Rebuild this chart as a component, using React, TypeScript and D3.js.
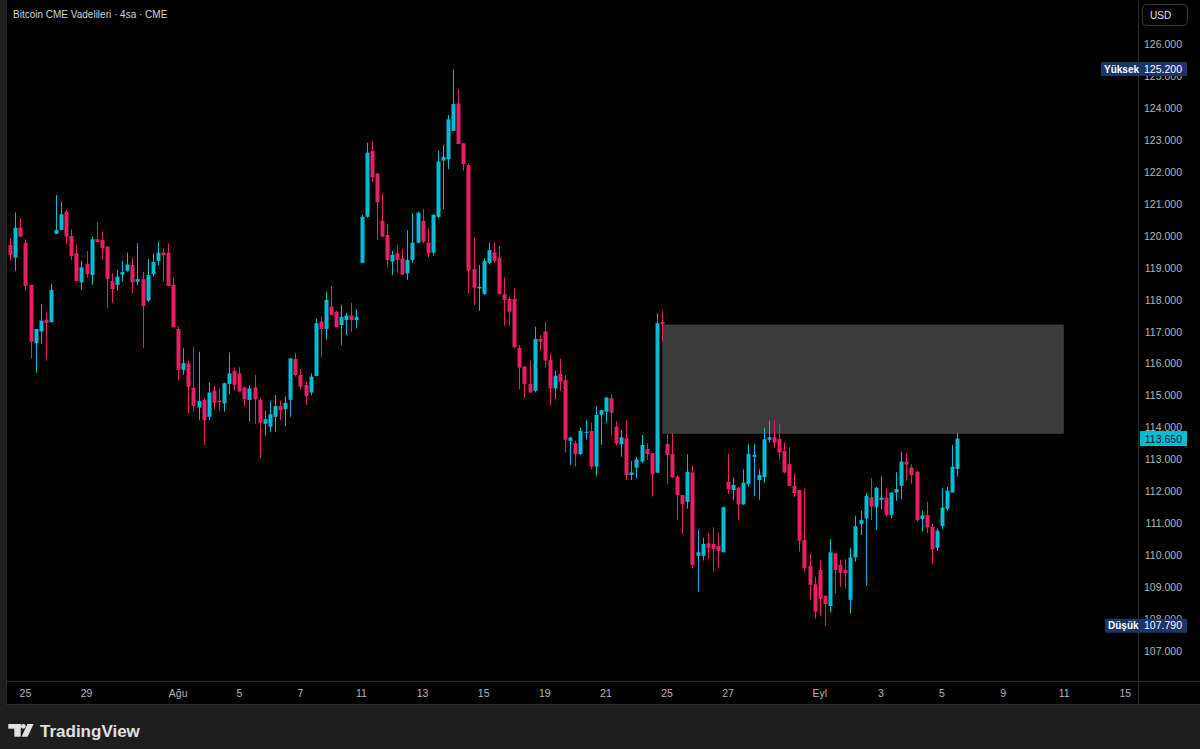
import React from "react";
import * as d3 from "d3";

// 4h candles, Bitcoin CME futures (late Jul -> early Sep)
const opens = [
  119.71, 119.31, 120.26, 119.78, 118.46, 116.63, 117.0, 117.37, 117.29, 120.06,
  120.18, 120.75, 119.99, 119.45, 118.54, 119.11, 118.77, 119.89, 119.87, 119.66,
  118.58, 118.46, 118.78, 118.9, 119.08, 118.56, 118.64, 117.97, 118.8, 119.21,
  119.47, 119.47, 118.46, 117.08, 115.8, 116.0, 115.24, 114.62, 114.86, 114.33,
  115.15, 114.84, 114.75, 115.36, 115.76, 115.69, 115.25, 114.86, 115.25, 114.86,
  114.11, 114.02, 114.33, 114.67, 114.57, 114.86, 116.14, 115.64, 115.33, 115.09,
  115.61, 117.31, 117.08, 117.78, 117.62, 117.2, 117.36, 117.5, 117.36, 119.15,
  120.59, 122.65, 121.95, 120.47, 120.02, 119.19, 119.45, 119.29, 118.82, 119.24,
  119.78, 120.46, 119.78, 119.47, 120.59, 122.35, 122.39, 123.28, 124.14, 122.89,
  122.21, 118.96, 118.35, 118.17, 119.15, 119.48, 119.31, 118.17, 118.02, 118.02,
  116.49, 115.9, 115.36, 115.14, 116.77, 117.0, 116.11, 115.22, 115.67, 115.48,
  113.58, 113.5, 113.16, 113.83, 113.89, 112.77, 114.39, 114.49, 114.91, 114.02,
  113.47, 113.66, 112.51, 112.74, 112.93, 113.32, 113.19, 112.58, 117.3, 113.48,
  113.17, 112.46, 111.88, 111.67, 112.59, 109.98, 109.98, 110.37, 110.35, 110.29,
  110.09, 112.3, 112.04, 112.11, 111.59, 112.22, 113.08, 112.35, 112.44, 113.61,
  113.69, 113.64, 113.26, 112.85, 112.17, 112.04, 110.48, 109.67, 109.09, 109.54,
  108.72, 108.41, 110.06, 109.69, 109.54, 108.6, 109.93, 110.98, 111.15, 111.81,
  111.5, 111.73, 111.8, 111.26, 111.96, 112.17, 112.93, 112.74, 112.61, 111.13,
  111.26, 110.89, 110.23, 110.91, 111.45, 111.96, 112.7,
];
const highs = [
  119.92, 120.73, 120.54, 119.89, 118.46, 117.08, 117.85, 117.6, 118.49, 121.27,
  121.06, 120.8, 120.2, 119.71, 119.21, 119.52, 119.97, 120.42, 120.13, 119.66,
  118.82, 118.93, 119.21, 119.47, 119.32, 119.76, 118.87, 119.27, 119.45, 119.81,
  119.61, 119.76, 118.7, 117.15, 116.48, 116.09, 116.51, 116.37, 114.93, 115.4,
  115.3, 115.22, 115.4, 116.34, 115.88, 115.88, 115.27, 115.3, 115.64, 114.93,
  114.52, 114.83, 115.01, 114.84, 114.96, 116.16, 116.34, 115.83, 115.43, 115.69,
  117.41, 117.46, 118.25, 118.43, 117.65, 117.83, 117.58, 117.9, 117.7, 120.65,
  122.91, 122.96, 121.95, 121.33, 120.37, 119.53, 119.71, 119.58, 120.18, 120.7,
  120.75, 120.83, 120.23, 120.68, 122.66, 122.84, 123.78, 125.2, 124.59, 122.89,
  122.27, 119.94, 119.08, 119.29, 119.78, 119.81, 119.68, 118.7, 118.09, 118.35,
  116.58, 115.92, 116.08, 117.15, 116.89, 117.31, 116.32, 115.77, 116.14, 115.64,
  113.71, 113.58, 113.99, 114.23, 114.15, 114.67, 114.54, 114.96, 115.04, 114.18,
  113.92, 114.21, 112.95, 113.08, 113.76, 113.5, 113.19, 117.57, 117.65, 113.78,
  113.81, 112.51, 111.88, 113.16, 112.8, 110.79, 110.55, 110.69, 110.87, 110.7,
  111.52, 113.17, 112.43, 112.14, 112.69, 113.47, 113.47, 112.69, 113.99, 114.21,
  114.23, 114.11, 113.53, 113.38, 112.56, 112.04, 112.09, 110.04, 109.33, 109.83,
  108.75, 110.5, 110.06, 109.85, 109.87, 110.22, 111.23, 111.39, 111.94, 112.41,
  112.14, 112.46, 112.09, 111.96, 112.59, 113.24, 113.19, 112.85, 112.64, 111.39,
  111.67, 110.98, 110.84, 112.09, 112.14, 113.45, 113.83,
];
const lows = [
  119.22, 118.9, 119.95, 118.3, 116.16, 115.71, 116.61, 116.08, 117.29, 120.06,
  120.18, 119.76, 119.24, 118.58, 118.3, 118.69, 118.46, 119.8, 119.26, 117.73,
  117.9, 118.28, 118.56, 118.87, 118.2, 118.46, 116.48, 117.93, 118.72, 119.08,
  118.56, 118.43, 117.13, 115.48, 115.64, 114.44, 114.51, 114.23, 113.45, 114.23,
  114.57, 114.51, 114.49, 115.05, 115.15, 115.12, 114.65, 114.18, 114.11, 113.05,
  113.74, 113.86, 113.86, 114.23, 114.04, 114.33, 115.59, 115.19, 114.7, 115.01,
  115.61, 116.21, 116.74, 117.5, 117.13, 116.58, 116.9, 117.0, 117.1, 119.14,
  120.56, 121.69, 119.87, 119.97, 119.01, 118.77, 118.84, 118.77, 118.61, 119.15,
  119.76, 119.76, 119.32, 119.37, 120.54, 120.83, 122.08, 123.28, 122.87, 122.03,
  118.2, 117.83, 117.65, 118.15, 119.11, 119.15, 118.17, 117.18, 117.18, 116.48,
  115.19, 114.93, 115.09, 115.09, 116.4, 115.87, 114.68, 114.88, 115.14, 113.21,
  112.82, 112.77, 113.14, 113.61, 112.69, 112.48, 113.45, 114.13, 113.76, 113.45,
  113.08, 112.35, 112.35, 112.41, 112.88, 112.98, 111.83, 112.58, 116.68, 112.22,
  112.43, 111.1, 110.65, 111.45, 109.59, 108.86, 109.83, 109.88, 109.48, 109.59,
  110.09, 111.91, 111.73, 111.1, 111.57, 112.14, 111.85, 111.73, 112.27, 113.52,
  113.35, 113.0, 112.56, 112.17, 111.83, 110.11, 109.48, 108.6, 108.02, 108.1,
  107.79, 108.21, 108.81, 109.01, 108.96, 108.18, 109.8, 110.63, 109.05, 111.1,
  110.79, 111.44, 111.21, 111.15, 111.7, 111.76, 112.33, 112.23, 111.05, 110.74,
  110.69, 109.72, 110.13, 110.81, 111.39, 111.96, 112.46,
];
const closes = [
  119.4, 120.25, 119.97, 118.43, 116.68, 117.08, 117.34, 117.27, 118.3, 120.18,
  120.67, 119.97, 119.36, 118.58, 119.01, 118.8, 119.89, 119.8, 119.61, 118.64,
  118.33, 118.72, 118.86, 119.1, 118.54, 118.64, 117.8, 118.77, 119.18, 119.47,
  119.39, 118.43, 117.13, 115.8, 116.01, 115.27, 114.67, 114.83, 114.23, 115.09,
  114.77, 114.79, 115.38, 115.69, 115.33, 115.12, 114.88, 115.22, 114.88, 114.15,
  114.26, 114.41, 114.67, 114.54, 114.77, 116.16, 115.64, 115.27, 114.98, 115.59,
  117.26, 117.08, 117.99, 117.52, 117.13, 117.46, 117.5, 117.36, 117.46, 120.59,
  122.6, 121.82, 121.05, 119.97, 119.24, 119.4, 119.24, 118.79, 119.24, 119.78,
  120.72, 119.81, 119.45, 120.65, 122.32, 122.47, 123.64, 124.12, 122.87, 122.24,
  118.9, 118.37, 118.4, 119.21, 119.55, 119.21, 118.17, 117.99, 117.62, 116.51,
  115.87, 115.36, 115.09, 116.77, 116.68, 116.09, 115.22, 115.62, 115.43, 113.61,
  113.68, 113.16, 113.89, 113.86, 112.77, 114.39, 114.54, 114.93, 114.46, 113.5,
  113.69, 112.51, 112.59, 113.0, 113.45, 113.16, 112.53, 117.26, 117.23, 113.14,
  112.43, 111.88, 111.6, 112.61, 109.69, 110.09, 110.35, 110.23, 110.19, 110.13,
  111.5, 112.06, 112.2, 111.59, 112.27, 113.17, 113.14, 112.51, 113.63, 113.69,
  113.52, 113.21, 112.59, 112.17, 111.94, 110.45, 109.59, 109.07, 108.23, 108.63,
  108.47, 110.09, 109.54, 109.45, 109.43, 109.93, 110.91, 111.1, 111.85, 111.52,
  112.11, 111.8, 111.26, 111.96, 112.07, 112.93, 112.84, 112.51, 111.1, 111.24,
  110.87, 110.18, 110.77, 111.49, 112.02, 112.77, 113.65,
];

// date labels sit on the first 4h bar of the day
const dayTickIndex = [3, 15, 33, 45, 57, 69, 81, 93, 105, 117, 129, 141, 159, 171, 183, 195, 207, 219];
const dayTickLabels = ["25", "29", "Ağu", "5", "7", "11", "13", "15", "19", "21", "25", "27", "Eyl", "3", "5", "9", "11", "15"];
const priceTicks = d3.range(107, 127);

// CME gap box
const gapStartIndex = 128.2;
const gapEndIndex = 206.8;
const gapTop = 117.2;
const gapBottom = 113.82;

const lastPrice = 113.65;
const highPrice = 125.2;
const lowPrice = 107.79;

const W = 1200;
const H = 749;
const plotRight = 1138;
const plotBottom = 681;
const UP = "#00bcd4";
const DOWN = "#e91e63";
const FONT = "'Liberation Sans', Arial, sans-serif";

export default function App() {
  const x = d3.scaleLinear().domain([-2, 221.5]).range([0, plotRight]);
  const y = d3.scaleLinear().domain([126, 107]).range([44, 651]);
  const bodyW = 4;

  const candles = opens.map((o, i) => ({ o, h: highs[i], l: lows[i], c: closes[i], i }));
  const fmt = d3.format(".3f");

  return (
    <div>
      <style>{`body{margin:0;background:#1e1e1e}`}</style>
      <svg width={W} height={H} style={{ display: "block" }} fontFamily={FONT}>
        <rect width={W} height={H} fill="#1e1e1e" />
        <rect x={6.5} y={-1} width={W} height={705.5} fill="#000" stroke="#2b2b2b" />

        {/* gap zone */}
        <rect
          x={x(gapStartIndex)}
          y={y(gapTop)}
          width={x(gapEndIndex) - x(gapStartIndex)}
          height={y(gapBottom) - y(gapTop)}
          fill="#3b3b3b"
          stroke="#474747"
          strokeWidth={1}
        />

        {/* candles */}
        {candles.map((d) => {
          const up = d.c >= d.o;
          const col = up ? UP : DOWN;
          const cx = Math.round(x(d.i));
          const top = y(Math.max(d.o, d.c));
          const bot = y(Math.min(d.o, d.c));
          return (
            <g key={d.i}>
              <line x1={cx + 0.5} x2={cx + 0.5} y1={y(d.h)} y2={y(d.l)} stroke={col} strokeWidth={1} />
              <rect x={cx - 1.5} y={top} width={bodyW} height={Math.max(1, bot - top)} fill={col} />
            </g>
          );
        })}

        {/* title */}
        <text x={13} y={18} fontSize={10} fill="#d1d4dc">
          Bitcoin CME Vadelileri · 4sa · CME
        </text>

        {/* right price axis */}
        <rect x={plotRight} y={0} width={W - plotRight} height={plotBottom} fill="#000" />
        <line x1={plotRight + 0.5} x2={plotRight + 0.5} y1={0} y2={704} stroke="#2b2b2b" />
        {priceTicks.map((p) => (
          <text key={p} x={1182} y={y(p) + 4} fontSize={10.5} fill="#b2b5be" textAnchor="end">
            {fmt(p)}
          </text>
        ))}
        <rect x={1142.5} y={4.5} width={45} height={21} rx={4} fill="#000" stroke="#3a3a3a" />
        <text x={1150} y={19} fontSize={10} fill="#e0e3eb">
          USD
        </text>

        {/* high label */}
        <rect x={1101} y={y(highPrice) - 7.5} width={86} height={14} fill="#1c3468" />
        <text x={1104} y={y(highPrice) + 3.5} fontSize={10} fontWeight="bold" fill="#fff">
          Yüksek
        </text>
        <text x={1182} y={y(highPrice) + 3.5} fontSize={10.5} fill="#fff" textAnchor="end">
          {fmt(highPrice)}
        </text>

        {/* last price label */}
        <rect x={1140} y={y(lastPrice) - 7.5} width={47} height={15} fill={UP} />
        <text x={1182} y={y(lastPrice) + 4} fontSize={10.5} fill="#0d1b2a" textAnchor="end">
          {fmt(lastPrice)}
        </text>

        {/* low label */}
        <rect x={1105} y={y(lowPrice) - 7} width={82} height={14} fill="#1c3468" />
        <text x={1108} y={y(lowPrice) + 3.5} fontSize={10} fontWeight="bold" fill="#fff">
          Düşük
        </text>
        <text x={1182} y={y(lowPrice) + 3.5} fontSize={10.5} fill="#fff" textAnchor="end">
          {fmt(lowPrice)}
        </text>

        {/* bottom time axis */}
        <line x1={6.5} x2={W} y1={plotBottom + 0.5} y2={plotBottom + 0.5} stroke="#2b2b2b" />
        {dayTickIndex.map((t, k) => (
          <text key={k} x={x(t)} y={697} fontSize={10.5} fill="#b2b5be" textAnchor="middle">
            {dayTickLabels[k]}
          </text>
        ))}

        {/* footer logo */}
        <g fill="#e0e0e0">
          <rect x={8.3} y={724} width={12.4} height={4.7} />
          <rect x={14.3} y={724} width={6.4} height={12.7} />
          <circle cx={23.3} cy={726.3} r={2.4} />
          <polygon points="27.5,724 33.6,724 27.6,736.7 21.6,736.7" />
        </g>
        <text x={40} y={737} fontSize={17} fontWeight="bold" fill="#e0e0e0">
          TradingView
        </text>
      </svg>
    </div>
  );
}
